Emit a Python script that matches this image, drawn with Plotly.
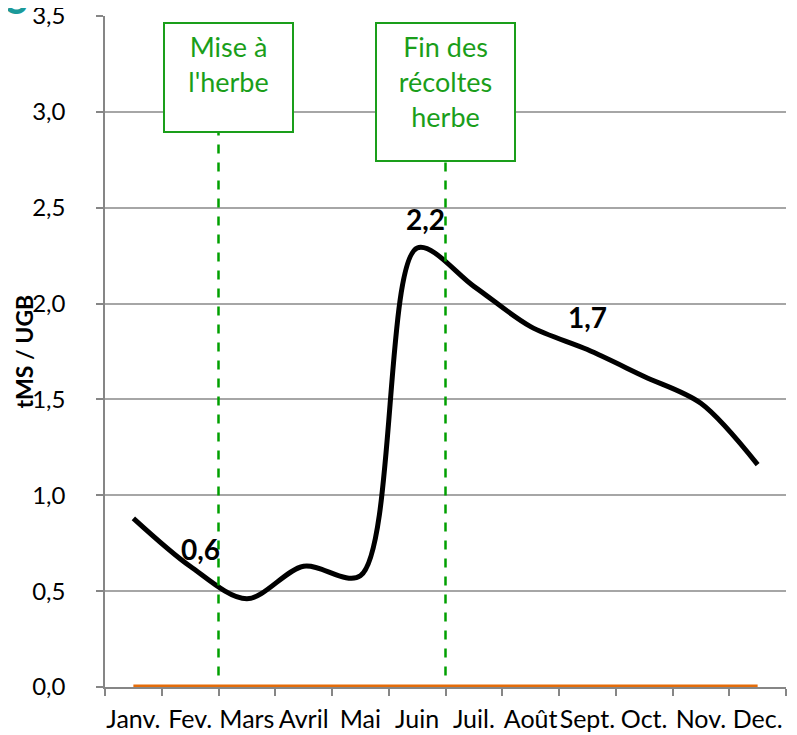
import plotly.graph_objects as go

months = ["Janv.", "Fev.", "Mars", "Avril", "Mai", "Juin",
          "Juil.", "Août", "Sept.", "Oct.", "Nov.", "Dec."]
stock = [0.88, 0.63, 0.46, 0.63, 0.58, 2.29, 2.09, 1.88, 1.76, 1.62, 1.48, 1.16]
zero_series = [0, 0, 0, 0, 0, 0, 0, 0, 0, 0, 0, 0]

label_texts = ["0,6", "2,2", "1,7"]
label_x = [1.18, 5.14, 8.0]
label_y = [0.72, 2.44, 1.93]

event_texts = ["Mise à<br>l'herbe", "Fin des<br>récoltes<br>herbe"]
event_line_x = [1.5, 5.5]
event_line_top = [2.90, 2.75]
event_box_x = [1.67, 5.5]

y_ticks = [0, 0.5, 1.0, 1.5, 2.0, 2.5, 3.0, 3.5]

FONT = "Lato"
GREEN = "#1a9e1a"

fig = go.Figure()

fig.add_trace(go.Scatter(
    x=months, y=zero_series, mode="lines",
    line=dict(color="#E46C0A", width=5), showlegend=False, hoverinfo="skip"))

fig.add_trace(go.Scatter(
    x=months, y=stock, mode="lines",
    line=dict(color="black", width=5, shape="spline", smoothing=0.9),
    showlegend=False))

# dashed event lines
for lx, lt in zip(event_line_x, event_line_top):
    fig.add_shape(type="line", xref="x", yref="y", x0=lx, x1=lx, y0=0.06, y1=lt,
                  line=dict(color="#00a000", width=2.5, dash="dash"))

# event boxes
heights = [95, 124]
widths = [115, 125]
for txt, bx, h, w in zip(event_texts, event_box_x, heights, widths):
    fig.add_annotation(x=bx, y=3.47, xref="x", yref="y", xanchor="center", yanchor="top",
                       text=txt, showarrow=False, align="center", valign="top",
                       width=w, height=h,
                       font=dict(family=FONT, size=27, color=GREEN),
                       bordercolor=GREEN, borderwidth=2, borderpad=6, bgcolor="white")

# data labels
for t, lx, ly in zip(label_texts, label_x, label_y):
    fig.add_annotation(x=lx, y=ly, xref="x", yref="y", text="<b>" + t + "</b>",
                       showarrow=False, font=dict(family=FONT, size=28, color="black"))

# y axis title
fig.add_annotation(x=-0.119, y=0.5, xref="paper", yref="paper", xanchor="center",
                   yanchor="middle", text="<b>tMS / UGB</b>",
                   textangle=-90, showarrow=False,
                   font=dict(family=FONT, size=23, color="black"))

# cropped title fragment
fig.add_annotation(x=-0.110, y=0.987, xref="paper", yref="paper", xanchor="right",
                   yanchor="bottom", text="<b>S</b>", showarrow=False,
                   font=dict(family=FONT, size=40, color="#1b9a9a"))

fig.update_layout(
    width=789, height=727,
    margin=dict(l=97, r=11, t=8, b=48),
    paper_bgcolor="white", plot_bgcolor="white",
    separators=", ",
    font=dict(family=FONT, size=20, color="black"),
    xaxis=dict(type="category", range=[-0.5, 11.5], tickson="boundaries",
               ticks="outside", ticklen=7, tickcolor="#868686", tickwidth=1.5,
               showline=True, linecolor="#868686", linewidth=1.5,
               showgrid=False, tickfont=dict(family=FONT, size=25),
               tickangle=0, ticklabelstandoff=9, automargin=False,
               ticklabeloverflow="allow"),
    yaxis=dict(range=[0, 3.5], tickvals=y_ticks, tickformat=".1f",
               ticks="outside", ticklen=7, tickcolor="#868686", tickwidth=1.5,
               showline=True, linecolor="#868686", linewidth=1.5,
               showgrid=True, gridcolor="#a6a6a6", gridwidth=1.5,
               zeroline=False, tickfont=dict(family=FONT, size=24),
               ticklabelstandoff=26, automargin=False,
               ticklabeloverflow="allow"),
)

fig.write_html("out.html")
